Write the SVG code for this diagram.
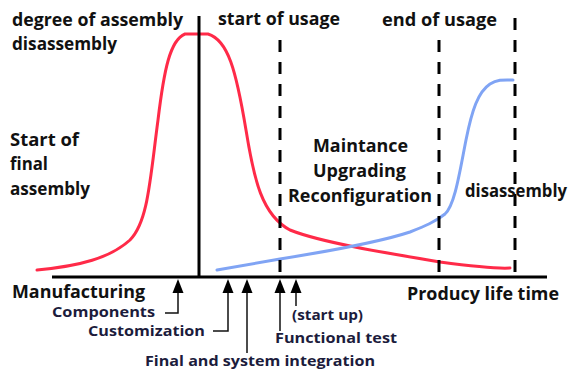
<svg xmlns="http://www.w3.org/2000/svg" width="573" height="372" viewBox="0 0 573 372">
<defs>
<style>
.t{font-family:"Open Sans","Liberation Sans",sans-serif;font-weight:700;font-size:17px;fill:#111;}
.l{font-family:"Open Sans","Liberation Sans",sans-serif;font-weight:700;font-size:15px;fill:#1c1c3c;}
.dash{stroke:#000;stroke-width:3;stroke-dasharray:12 10;fill:none;}
.stem{stroke:#111;stroke-width:1.5;fill:none;}
.head{fill:#000;}
</style>
</defs>
<rect width="573" height="372" fill="#fff"/>
<g id="curves">
<path id="red-curve" d="M37,270 C80,266 110,258 130,240 C148,222 150,180 158,120 C164,70 170,40 185,34 L208,34 C228,40 236,70 246,130 C254,180 262,215 290,230 C320,242 380,252 440,262 C470,266 495,269 510,268" fill="none" stroke="#ff2a48" stroke-width="3" stroke-linecap="round"/>
<path id="blue-curve" d="M217,270 L280,259 C330,251 380,242 410,232 C425,226 435,222 445,214 C455,205 460,170 466,140 C472,110 478,92 490,84 C498,79 505,80 513,80" fill="none" stroke="#80a4f4" stroke-width="3" stroke-linecap="round"/>
</g>
<g id="connectors">
<line id="x-axis" x1="52" y1="277" x2="547" y2="277" stroke="#000" stroke-width="3"/>
<line id="y-axis" x1="199" y1="16" x2="199" y2="277" stroke="#000" stroke-width="3"/>
<line id="start-usage" class="dash" x1="280" y1="40" x2="280" y2="277"/>
<line id="end-usage" class="dash" x1="439" y1="40" x2="439" y2="277"/>
<line id="end-disassembly" class="dash" x1="515" y1="18" x2="515" y2="277"/>
<g id="arrow-components"><path class="stem" d="M178,288 V313 H165"/><path class="head" d="M178,279 L172.5,293 L183.5,293 Z"/></g>
<g id="arrow-customization"><path class="stem" d="M228,288 V331 H213"/><path class="head" d="M228,279 L222.5,293 L233.5,293 Z"/></g>
<g id="arrow-final"><path class="stem" d="M247,288 V353"/><path class="head" d="M247,279 L241.5,293 L252.5,293 Z"/></g>
<g id="arrow-functional"><path class="stem" d="M280,288 V331"/><path class="head" d="M280,279 L274.5,293 L285.5,293 Z"/></g>
<g id="arrow-startup"><path class="stem" d="M296,288 V306"/><path class="head" d="M296,279 L290.5,293 L301.5,293 Z"/></g>
</g>
<g id="label-degree"><text class="t" x="12" y="26" textLength="171" lengthAdjust="spacingAndGlyphs">degree of assembly</text><text class="t" x="12" y="50" textLength="105" lengthAdjust="spacingAndGlyphs">disassembly</text></g>
<g id="label-start-usage"><text class="t" x="218" y="25" textLength="122" lengthAdjust="spacingAndGlyphs">start of usage</text></g>
<g id="label-end-usage"><text class="t" x="382" y="26" textLength="115" lengthAdjust="spacingAndGlyphs">end of usage</text></g>
<g id="label-start-final"><text class="t" x="10" y="146" textLength="69" lengthAdjust="spacingAndGlyphs">Start of</text><text class="t" x="10" y="170" textLength="38" lengthAdjust="spacingAndGlyphs">final</text><text class="t" x="10" y="195" textLength="80" lengthAdjust="spacingAndGlyphs">assembly</text></g>
<g id="label-maintance"><text class="t" x="313" y="152" textLength="95" lengthAdjust="spacingAndGlyphs">Maintance</text><text class="t" x="313" y="177" textLength="93" lengthAdjust="spacingAndGlyphs">Upgrading</text><text class="t" x="288" y="202" textLength="144" lengthAdjust="spacingAndGlyphs">Reconfiguration</text></g>
<g id="label-disassembly"><text class="t" x="465" y="197" textLength="102" lengthAdjust="spacingAndGlyphs">disassembly</text></g>
<g id="label-manufacturing"><text class="t" x="12" y="298" textLength="133" lengthAdjust="spacingAndGlyphs">Manufacturing</text></g>
<g id="label-lifetime"><text class="t" x="407" y="300" textLength="152" lengthAdjust="spacingAndGlyphs">Producy life time</text></g>
<g id="label-components"><text class="l" x="52" y="317" textLength="103" lengthAdjust="spacingAndGlyphs">Components</text></g>
<g id="label-customization"><text class="l" x="88" y="336" textLength="117" lengthAdjust="spacingAndGlyphs">Customization</text></g>
<g id="label-final"><text class="l" x="145" y="366" textLength="230" lengthAdjust="spacingAndGlyphs">Final and system integration</text></g>
<g id="label-functional"><text class="l" x="275" y="343" textLength="122" lengthAdjust="spacingAndGlyphs">Functional test</text></g>
<g id="label-startup"><text class="l" x="292" y="320" textLength="71" lengthAdjust="spacingAndGlyphs">(start up)</text></g>
</svg>
